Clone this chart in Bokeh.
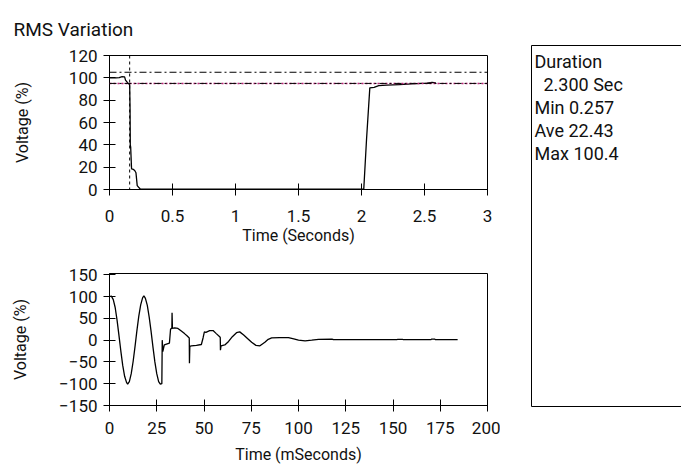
from bokeh.plotting import figure
from bokeh.layouts import row, column
from bokeh.models import Range1d, Span, Label, FixedTicker, LinearAxis
from bokeh.embed import file_html
from bokeh.resources import INLINE

FONT = "Roboto"

# ---------------- data ----------------
title_text = "RMS Variation"

# RMS trace (seconds, % voltage)
rms_t = [0, 0.05, 0.077, 0.10, 0.12, 0.127, 0.148, 0.160, 0.162, 0.163, 0.165, 0.168, 0.175,
         0.19, 0.20, 0.21, 0.22, 0.235, 0.246, 1.0, 2.00, 2.018, 2.04, 2.066, 2.10,
         2.137, 2.20, 2.30, 2.40, 2.52, 2.56, 2.59]
rms_v = [100, 100, 100.2, 101, 100.8, 98, 95, 94, 80, 73, 40, 38, 18.5,
         18, 17, 15, 3.5, 1.5, 0.3, 0.3, 0.3, 0.3, 45, 91, 91.5,
         93, 93.5, 94, 94.5, 95.3, 96, 95.5]
upper_limit = 105
lower_limit = 95
trigger_t = 0.16

x1_ticks = [0, 0.5, 1, 1.5, 2, 2.5, 3]
x1_labels = ["0", "0.5", "1", "1.5", "2", "2.5", "3"]
y1_ticks = [0, 20, 40, 60, 80, 100, 120]
y1_labels = ["0", "20", "40", "60", "80", "100", "120"]

# waveform (milliseconds, % voltage)
wave_t = [0, 1, 2, 3, 4, 5, 6, 7, 8, 9, 9.6, 10.5, 11.5, 12.5, 13.5, 14.5, 15.5, 16.5, 17.5,
          18.2, 19, 20, 21, 22, 23, 24, 25, 26, 26.9, 27.7, 27.9, 28.2, 29, 31.7, 32.3, 33.0,
          33.1, 33.3, 34.5, 36.2, 38, 39.7, 41, 42.2, 42.3, 42.5, 43.3, 46, 48.6, 49.5, 50.2,
          51, 53, 54.8, 56.5, 58.3, 58.6, 58.7, 59, 61, 63, 65, 67.2, 68.9, 71, 73, 75.2,
          77.5, 79.6, 82.2, 84, 85.8, 90, 94.7, 97.5, 100, 103.5, 107, 110.6, 117.7, 118.5,
          125, 133.7, 140, 152, 152.5, 155, 155.5, 170, 170.5, 172, 172.5, 178, 184.2]
wave_v = [100, 101, 93, 75, 46, 11, -25, -58, -83, -97, -101, -95, -77, -49, -15, 22, 55, 81, 97,
          102, 96, 80, 53, 20, -16, -50, -77, -95, -101, -100, 0, -26, -11, -7, 25, 28,
          63, 27, 28, 27, 21, 15, 10, 5, -53, -14, -13, -12, -10, 5, 19,
          18, 22, 22, 15, 8, 6, -23, -13, -11, -3, 8, 17, 19, 12, 4, -5,
          -12, -13, -5, 2, 5, 6, 6, 3, 0, -1.5, 0, 2, 2.5, 1,
          1, 1, 1, 1, 2, 2, 1, 1, 2.5, 2.5, 1, 1, 1]

x2_ticks = [0, 25, 50, 75, 100, 125, 150, 175, 200]
x2_labels = ["0", "25", "50", "75", "100", "125", "150", "175", "200"]
y2_ticks = [-150, -100, -50, 0, 50, 100, 150]
y2_labels = ["\u2212150", "\u2212100", "\u221250", "0", "50", "100", "150"]

info_lines = ["Duration", "2.300 Sec", "Min 0.257", "Ave 22.43", "Max 100.4"]


def style_axes(p, xt, xl, yt, yl, xlabel, ylabel, xstand, ystand):
    p.grid.visible = False
    p.outline_line_color = "black"
    p.outline_line_width = 1
    p.outline_line_alpha = 1
    p.xaxis.ticker = FixedTicker(ticks=xt)
    p.yaxis.ticker = FixedTicker(ticks=yt)
    p.xaxis.major_label_overrides = dict(zip(xt, xl))
    p.yaxis.major_label_overrides = dict(zip(yt, yl))
    p.xaxis.axis_label = xlabel
    p.yaxis.axis_label = ylabel
    p.xaxis.axis_label_standoff = xstand
    p.yaxis.axis_label_standoff = ystand
    for ax in (p.xaxis, p.yaxis):
        ax.minor_tick_line_color = None
        ax.major_tick_out = 6
        ax.major_tick_in = 6
        ax.major_tick_line_color = "black"
        ax.major_tick_line_width = 1
        ax.axis_line_color = "black"
        ax.axis_line_width = 1
        ax.major_label_text_font = FONT
        ax.major_label_text_font_size = "17px"
        ax.major_label_text_font_style = "normal"
        ax.major_label_text_color = "#111111"
        ax.axis_label_text_font = FONT
        ax.axis_label_text_font_size = "16px"
        ax.axis_label_text_font_style = "normal"
        ax.axis_label_text_color = "#111111"
    p.xaxis.major_label_standoff = 14
    p.yaxis.major_label_standoff = 6


# ---------------- top: RMS ----------------
p1 = figure(width=500, height=250, x_range=Range1d(0, 3), y_range=Range1d(0, 120),
            output_backend="svg", toolbar_location=None,
            min_border_left=109, min_border_right=13, min_border_top=54, min_border_bottom=61)
style_axes(p1, x1_ticks, x1_labels, y1_ticks, y1_labels, "Time (Seconds)", "Voltage (%)", 1, 34)

p1.title.text = title_text
p1.title.align = "left"
p1.title.offset = -96
p1.title.standoff = 30
p1.title.text_font = FONT
p1.title.text_font_size = "19px"
p1.title.text_font_style = "normal"
p1.title.text_color = "#111111"

p1.add_layout(Span(location=upper_limit, dimension="width", line_color="black",
                   line_width=1, line_dash="7 3 2 3"))
p1.add_layout(Span(location=lower_limit, dimension="width", line_color="#c0207a",
                   line_width=1.5, line_dash="2 2"))
p1.add_layout(Span(location=lower_limit, dimension="width", line_color="black",
                   line_width=1, line_dash="7 3 2 3"))
p1.add_layout(Span(location=trigger_t, dimension="height", line_color="black",
                   line_width=1, line_dash="3 3"))
p1.line(rms_t, rms_v, line_color="black", line_width=1.3)

# ---------------- bottom: waveform ----------------
p2 = figure(width=500, height=216, x_range=Range1d(0, 200), y_range=Range1d(-150, 153),
            output_backend="svg", toolbar_location=None,
            min_border_left=109, min_border_right=12, min_border_top=23, min_border_bottom=60)
style_axes(p2, x2_ticks, x2_labels, y2_ticks, y2_labels, "Time (mSeconds)", "Voltage (%)", 8, 26)
p2.xaxis.major_label_standoff = 10
p2.line(wave_t, wave_v, line_color="black", line_width=1.3)

# ---------------- right: info box ----------------
p3 = figure(width=181, height=466, x_range=Range1d(0, 1), y_range=Range1d(0, 1),
            output_backend="svg", toolbar_location=None, x_axis_type=None, y_axis_type=None,
            min_border_left=31, min_border_right=0, min_border_top=45, min_border_bottom=60)
p3.grid.visible = False
p3.outline_line_color = None
for side in ("left", "above", "below"):
    ax = LinearAxis(ticker=FixedTicker(ticks=[]), major_tick_out=0, major_tick_in=0,
                    minor_tick_out=0, minor_tick_in=0, axis_line_color="black",
                    axis_line_width=1, major_label_standoff=0)
    p3.add_layout(ax, side)

info_x = [3, 12, 3, 3, 3]
info_y = [345, 322, 299, 276, 253]
for tx, ty, txt in zip(info_x, info_y, info_lines):
    p3.add_layout(Label(x=tx, y=ty, x_units="screen", y_units="screen", text=txt,
                        text_font=FONT, text_font_size="18px", text_baseline="middle",
                        text_color="#111111"))

layout = row(column(p1, p2), p3)
open("out.html", "w").write(file_html(layout, INLINE))
